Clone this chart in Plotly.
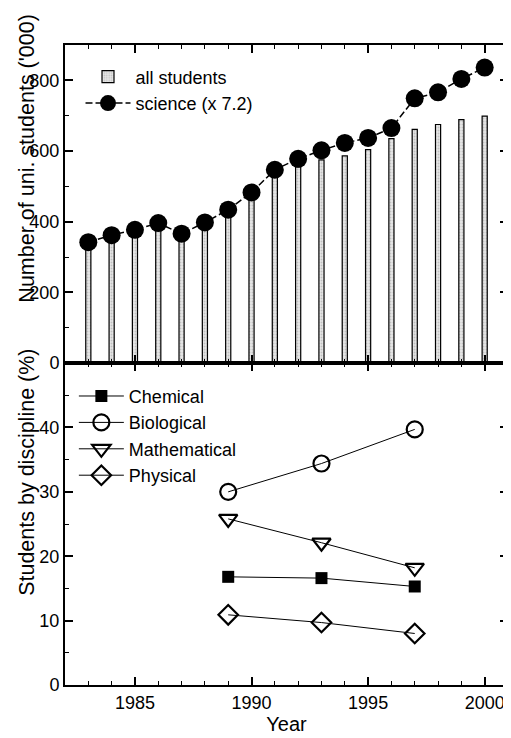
import plotly.graph_objects as go
from plotly.subplots import make_subplots

years = list(range(1983, 2001))
all_students = [335, 352, 365, 385, 355, 388, 420, 464, 526, 555, 575, 586, 604, 635, 661, 675, 689, 699]
science_x72 = [342, 362, 377, 396, 366, 398, 434, 483, 547, 578, 602, 623, 637, 665, 749, 766, 804, 836]

disc_years = [1989, 1993, 1997]
chemical = [16.8, 16.6, 15.3]
biological = [30.0, 34.4, 39.7]
mathematical = [25.8, 22.1, 18.2]
physical = [10.9, 9.7, 8.0]

FONT = "Liberation Sans, Arial, sans-serif"

fig = make_subplots(rows=2, cols=1, shared_xaxes=True, vertical_spacing=0)

fig.add_trace(go.Bar(
    x=years, y=all_students, name="all students", width=0.22,
    marker=dict(color="#e6e6e6", line=dict(color="black", width=1.2),
                pattern=dict(shape=".", fgcolor="#9a9a9a", size=3, solidity=0.3)),
    legend="legend"), row=1, col=1)
fig.add_trace(go.Scatter(
    x=years, y=science_x72, name="science (x 7.2)", mode="lines+markers",
    line=dict(color="black", width=1.5, dash="7px,3px"),
    marker=dict(symbol="circle", size=18, color="black"),
    legend="legend"), row=1, col=1)

common_line = dict(color="black", width=1)
fig.add_trace(go.Scatter(x=disc_years, y=chemical, name="Chemical", mode="lines+markers",
    line=common_line, marker=dict(symbol="square", size=12, color="black"),
    legend="legend2"), row=2, col=1)
fig.add_trace(go.Scatter(x=disc_years, y=biological, name="Biological", mode="lines+markers",
    line=common_line, marker=dict(symbol="circle-open", size=16, color="black", line=dict(width=2.2)),
    legend="legend2"), row=2, col=1)
fig.add_trace(go.Scatter(x=disc_years, y=mathematical, name="Mathematical", mode="lines+markers",
    line=common_line, marker=dict(symbol="triangle-down-open", size=16, color="black", line=dict(width=2.2)),
    legend="legend2"), row=2, col=1)
fig.add_trace(go.Scatter(x=disc_years, y=physical, name="Physical", mode="lines+markers",
    line=common_line, marker=dict(symbol="diamond-open", size=15, color="black", line=dict(width=2.2)),
    legend="legend2"), row=2, col=1)

axis_common = dict(showline=True, linewidth=2, linecolor="black", mirror="allticks",
                   ticks="inside", ticklen=8, tickwidth=1.5, tickcolor="black",
                   showgrid=False, zeroline=False, automargin=False,
                   tickfont=dict(family=FONT, size=18, color="black"))

fig.update_xaxes(**axis_common, range=[1982, 2001], tickvals=[1985, 1990, 1995, 2000],
                 minor=dict(dtick=1, tick0=1982, ticklen=4, tickwidth=1.2, ticks="inside", tickcolor="black"))
fig.update_xaxes(showticklabels=False, row=1, col=1)
fig.update_xaxes(showticklabels=True, row=2, col=1,
                 title=dict(text="Year", font=dict(family=FONT, size=20, color="black"), standoff=4))

fig.update_yaxes(**axis_common)
fig.update_yaxes(row=1, col=1, range=[0, 900], tickvals=[0, 200, 400, 600, 800],
                 minor=dict(tickvals=[100, 300, 500, 700], ticklen=4, tickwidth=1.2, ticks="inside", tickcolor="black"))
fig.update_yaxes(row=2, col=1, range=[0, 50], tickvals=[0, 10, 20, 30, 40],
                 minor=dict(tickvals=[5, 15, 25, 35, 45], ticklen=4, tickwidth=1.2, ticks="inside", tickcolor="black"))

fig.update_layout(
    width=503, height=730,
    margin=dict(l=57, r=3, t=37, b=53),
    paper_bgcolor="white", plot_bgcolor="white",
    font=dict(family=FONT, size=18, color="black"),
    yaxis=dict(domain=[0.503, 1.0]),
    yaxis2=dict(domain=[0.0, 0.503]),
    showlegend=True,
    legend=dict(x=0.035, y=0.979, xanchor="left", yanchor="top", bgcolor="rgba(0,0,0,0)",
                font=dict(family=FONT, size=18), itemwidth=45, tracegroupgap=0),
    legend2=dict(x=0.02, y=0.48, xanchor="left", yanchor="top", bgcolor="rgba(0,0,0,0)",
                 font=dict(family=FONT, size=18), itemwidth=45, tracegroupgap=0),
    annotations=[
        dict(text="Number of uni. students ('000)", textangle=-90, xref="paper", yref="paper",
             x=-0.0858, y=0.824, xanchor="center", yanchor="middle", showarrow=False,
             font=dict(family=FONT, size=21.5, color="black")),
        dict(text="Students by discipline (%)", textangle=-90, xref="paper", yref="paper",
             x=-0.0858, y=0.333, xanchor="center", yanchor="middle", showarrow=False,
             font=dict(family=FONT, size=21.5, color="black")),
    ],
)

fig.write_html("out.html")
